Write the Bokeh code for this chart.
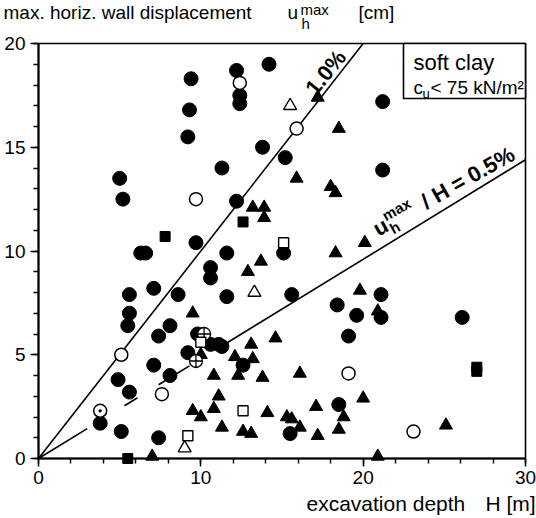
import math
from bokeh.plotting import figure
from bokeh.models import Range1d, SingleIntervalTicker, Label, BoxAnnotation
from bokeh.embed import file_html
from bokeh.resources import INLINE

# ---------------- data (excavation depth H [m], max wall displacement u [cm]) -------------
fc_H = [9.4, 9.3, 9.2, 12.2, 14.2, 12.4, 12.4, 21.2, 13.8, 15.2, 5.0, 5.2, 11.3, 12.2, 15.1, 21.2,
        9.7, 6.3, 6.6, 11.6, 10.6, 10.6, 11.6, 15.6, 5.6, 7.1, 8.6, 5.6, 5.5, 8.1, 7.4, 9.8, 21.1,
        18.4, 19.6, 21.1, 26.1, 19.1, 10.6, 11.1, 11.3, 9.2, 7.1, 12.6, 8.1, 4.9, 5.6, 18.5, 3.8,
        5.1, 7.4, 15.5]
fc_u = [18.3, 16.8, 15.5, 18.7, 19.0, 17.5, 17.1, 17.2, 15.0, 14.5, 13.5, 12.5, 14.0, 12.4, 9.9, 13.9,
        10.4, 9.9, 9.9, 9.9, 9.2, 8.7, 7.8, 7.9, 7.9, 8.2, 7.9, 7.0, 6.4, 6.4, 5.9, 6.0, 7.9,
        7.4, 6.9, 6.8, 6.8, 5.9, 5.5, 5.5, 5.4, 5.1, 4.5, 4.5, 4.0, 3.8, 3.2, 2.6, 1.7,
        1.3, 1.0, 1.2]

oc_H = [12.4, 15.9, 9.7, 5.1, 7.6, 19.1, 23.1]
oc_u = [18.1, 15.9, 12.5, 5.0, 3.1, 4.1, 1.3]

dc_H = [3.8]
dc_u = [2.3]

cc_H = [10.2, 9.7]
cc_u = [6.0, 4.7]

ft_H = [17.2, 18.5, 15.9, 18.0, 18.3, 13.2, 13.9, 13.9, 18.3, 20.1, 13.7, 12.9, 9.5, 19.8, 20.9,
        14.6, 13.1, 10.0, 12.1, 13.2, 10.8, 12.3, 13.8, 16.1, 11.1, 10.8, 9.5, 10.0, 14.1, 15.3,
        15.6, 17.1, 20.0, 18.8, 11.3, 12.6, 13.1, 16.1, 17.2, 18.5, 25.1, 7.0, 20.9]
ft_u = [17.4, 15.9, 13.5, 13.1, 12.8, 12.1, 12.1, 11.6, 9.9, 10.4, 9.5, 9.0, 7.0, 8.1, 7.1,
        5.8, 5.5, 5.0, 4.9, 4.8, 4.0, 4.0, 3.9, 4.1, 3.0, 2.4, 2.3, 2.0, 2.2, 2.0,
        1.9, 2.5, 2.9, 2.0, 1.5, 1.3, 1.2, 1.5, 1.1, 1.4, 1.6, 0.1, 0.1]

ot_H = [15.5, 13.3, 9.0]
ot_u = [17.0, 8.0, 0.5]

ht_H = [20.2, 14.7, 19.8, 12.9, 12.1, 12.7, 6.6, 19.8, 7.3, 3.0, 10.0]
ht_u = [13.6, 10.9, 10.5, 9.6, 7.0, 7.0, 6.2, 5.0, 2.6, 1.0, 1.3]

fs_H = [7.8, 12.6, 5.5, 27.0, 27.0]
fs_u = [10.7, 11.4, 0.0, 4.4, 4.2]

os_H = [15.1, 10.0, 9.2, 12.6]
os_u = [10.4, 5.6, 1.1, 2.3]

# reference lines u/H (cm per m) as drawn, and the H-segments where the 0.5 % line is visible
ratio_10 = 1.0
ratio_05 = 0.48
seg05 = [(0.0, 3.0), (5.3, 6.1), (7.4, 9.3), (11.6, 30.0)]

x_ticks_major = 10
y_ticks_major = 5

# ---------------- page geometry (page pixels, origin top-left) ----------------
W, HT = 536, 518
L, R = 38, 525          # plot box left / right edge
TOP, BOT = 43, 458      # plot box top / bottom edge
X0, X1, Y0, Y1 = 0, 30, 0, 20
FONT = "Liberation Sans"
BASE_K = 0.33           # baseline correction (fraction of font size)


def dx(px):
    return X0 + (px - L) * (X1 - X0) / (R - L)


def dy(py):
    return Y0 + (BOT - py) * (Y1 - Y0) / (BOT - TOP)


# the frame fills the whole page; the axes are pinned at the data origin
p = figure(width=W, height=HT,
           x_range=Range1d(dx(0), dx(W)), y_range=Range1d(dy(HT), dy(0)),
           output_backend="svg", toolbar_location=None,
           min_border=0, min_border_left=0, min_border_right=0,
           min_border_top=0, min_border_bottom=0)
p.background_fill_color = "white"
p.border_fill_color = "white"
p.outline_line_color = None
p.grid.visible = False

p.xaxis.fixed_location = Y0
p.yaxis.fixed_location = X0
p.xaxis.bounds = (X0, X1)
p.yaxis.bounds = (Y0, Y1)
p.xaxis.ticker = SingleIntervalTicker(interval=x_ticks_major, num_minor_ticks=5)
p.yaxis.ticker = SingleIntervalTicker(interval=y_ticks_major, num_minor_ticks=5)
p.axis.axis_line_color = "black"
p.axis.axis_line_width = 2
p.axis.major_tick_line_color = "black"
p.axis.major_tick_line_width = 1.5
p.axis.major_tick_in = 0
p.axis.major_tick_out = 8
p.axis.minor_tick_line_color = "black"
p.axis.minor_tick_line_width = 1.5
p.axis.minor_tick_in = 0
p.axis.minor_tick_out = 5
p.axis.major_label_text_font = FONT
p.axis.major_label_text_font_size = "19px"
p.axis.major_label_text_color = "black"
p.xaxis.major_label_standoff = 4
p.yaxis.major_label_standoff = 5

# plot box (top and right edges)
p.add_layout(BoxAnnotation(left=X0, right=X1, bottom=Y0, top=Y1,
                           fill_alpha=0.0, line_color="black", line_width=1.6, line_alpha=1.0))

# reference lines
p.line([0, Y1 / ratio_10], [0, Y1], line_color="black", line_width=1.6)
p.multi_line([[a, b] for a, b in seg05], [[a * ratio_05, b * ratio_05] for a, b in seg05],
             line_color="black", line_width=1.6)

# markers
p.scatter(fc_H, fc_u, marker="circle", size=14, fill_color="black", line_color="black")
p.scatter(ft_H, ft_u, marker="triangle", size=13, fill_color="black", line_color="black")
p.scatter(fs_H, fs_u, marker="square", size=10, fill_color="black", line_color="black")
p.scatter(oc_H, oc_u, marker="circle", size=13, fill_color="white", line_color="black", line_width=1.5)
p.scatter(dc_H, dc_u, marker="circle_dot", size=13, fill_color="white", line_color="black", line_width=1.5)
p.scatter(cc_H, cc_u, marker="circle_cross", size=13, fill_color="white", line_color="black", line_width=1.3)
p.scatter(ot_H, ot_u, marker="triangle", size=13, fill_color="white", line_color="black", line_width=1.4)
p.scatter(ht_H, ht_u, marker="triangle_x", size=13, fill_color="white", line_color="black", line_width=1.3)
p.scatter(os_H, os_u, marker="square", size=10, fill_color="white", line_color="black", line_width=1.4)


def lab(px, py, text, size, bold=False, angle=0.0):
    # (px, py): page position of the text baseline start
    sx = px - BASE_K * size * math.sin(angle)
    sy = py - BASE_K * size * math.cos(angle)
    p.add_layout(Label(x=dx(sx), y=dy(sy), text=text, text_font=FONT,
                       text_font_size=f"{size}px",
                       text_font_style="bold" if bold else "normal",
                       text_color="black", text_align="left",
                       text_baseline="alphabetic", angle=angle))


# legend box
p.add_layout(BoxAnnotation(left=dx(403), right=X1, bottom=dy(98), top=Y1,
                           fill_color="white", fill_alpha=1.0, line_color="black",
                           line_width=1.6, line_alpha=1.0))
lab(413, 69, "soft clay", 22)
lab(413, 93, "c", 19)
lab(422, 97, "u", 13)
lab(430, 93, "< 75 kN/m²", 19)

# line labels
lab(315, 96, "1.0%", 22, bold=True, angle=math.radians(51))

th = math.radians(29.5)
P0 = (378.0, 236.0)
d = (math.cos(th), -math.sin(th))
n = (-math.sin(th), -math.cos(th))


def along(s, h):
    return P0[0] + d[0] * s + n[0] * h, P0[1] + d[1] * s + n[1] * h


x_, y_ = along(0, 0)
lab(x_, y_, "u", 22, bold=True, angle=th)
x_, y_ = along(14, 10)
lab(x_, y_, "max", 15, bold=True, angle=th)
x_, y_ = along(14, -5)
lab(x_, y_, "h", 15, bold=True, angle=th)
x_, y_ = along(55, 0)
lab(x_, y_, "/ H = 0.5%", 22, bold=True, angle=th)

# axis titles
lab(3, 18, "max. horiz. wall displacement", 19)
lab(287, 18, "u", 19)
lab(300, 14, "max", 15)
lab(301, 28, "h", 15)
lab(358, 18, "[cm]", 19)

lab(306, 510, "excavation depth", 21)
lab(485, 510, "H [m]", 21)

open("out.html", "w").write(file_html(p, INLINE))
